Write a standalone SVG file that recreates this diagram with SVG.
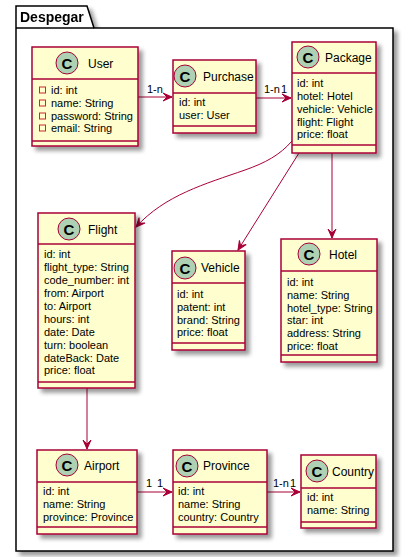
<svg xmlns="http://www.w3.org/2000/svg" width="409" height="557" viewBox="0 0 409 557">
<defs>
<filter id="sh" x="-20%" y="-20%" width="150%" height="150%">
<feGaussianBlur in="SourceAlpha" stdDeviation="2"/>
<feOffset dx="4" dy="4" result="b"/>
<feComponentTransfer><feFuncA type="linear" slope="0.4"/></feComponentTransfer>
<feMerge><feMergeNode/><feMergeNode in="SourceGraphic"/></feMerge>
</filter>
<marker id="ah" viewBox="0 -5 11 10" refX="10" refY="0" markerWidth="11" markerHeight="10" markerUnits="userSpaceOnUse" orient="auto">
<path d="M10,0 L1,-4 L5,0 L1,4 Z" fill="#A80036" stroke="#A80036" stroke-width="1"/>
</marker>
</defs>
<style>
.box{fill:#FEFECE;stroke:#A80036;stroke-width:1.5}
.sep{stroke:#A80036;stroke-width:1.5}
.ci{fill:#ADD1B2;stroke:#A80036;stroke-width:1}
.cl{font-family:"Liberation Sans",Arial,sans-serif;font-size:15px;font-weight:bold;fill:#000;text-anchor:middle}
.nm{font-family:"Liberation Sans",Arial,sans-serif;font-size:12px;fill:#000}
.at{font-family:"Liberation Sans",Arial,sans-serif;font-size:11px;fill:#000}
.lb{font-family:"Liberation Sans",Arial,sans-serif;font-size:11px;fill:#000}
.vi{fill:none;stroke:#C82930;stroke-width:1}
.cn{fill:none;stroke:#A80036;stroke-width:1}
</style>
<rect width="409" height="557" fill="#FFFFFF"/>
<g id="pkg-Despegar" filter="url(#sh)">
<path d="M16,28 L16,6 L87,6 L94,28 L393,28 L393,551 L16,551 Z" fill="#FFFFFF" stroke="#000" stroke-width="1.5"/>
<line x1="16" y1="28" x2="94" y2="28" stroke="#000" stroke-width="1.5"/>
<text x="20" y="22" font-family="Liberation Sans,Arial,sans-serif" font-size="14" font-weight="bold">Despegar</text>
</g>
<g id="connectors">
<line class="cn" x1="138" y1="97" x2="172" y2="97" marker-end="url(#ah)"/>
<text class="lb" x="147" y="93">1-n</text>
<line class="cn" x1="256" y1="98" x2="291" y2="98" marker-end="url(#ah)"/>
<text class="lb" x="264" y="93">1-n</text>
<text class="lb" x="281" y="93">1</text>
<path class="cn" d="M292,141 C280,155 265,163 245,170 C205,184 165,195 136,227" marker-end="url(#ah)"/>
<line class="cn" x1="299" y1="153" x2="238" y2="250" marker-end="url(#ah)"/>
<line class="cn" x1="332" y1="153" x2="332" y2="238" marker-end="url(#ah)"/>
<line class="cn" x1="87" y1="388" x2="87" y2="449" marker-end="url(#ah)"/>
<line class="cn" x1="137" y1="492" x2="172" y2="492" marker-end="url(#ah)"/>
<text class="lb" x="146" y="487">1</text>
<text class="lb" x="157" y="487">1</text>
<line class="cn" x1="267" y1="492" x2="300" y2="492" marker-end="url(#ah)"/>
<text class="lb" x="273" y="487">1-n</text>
<text class="lb" x="290" y="487">1</text>
</g>
<g id="User">
<rect class="box" x="32" y="47" width="106" height="99" filter="url(#sh)"/>
<line class="sep" x1="32" y1="79" x2="138" y2="79"/>
<line class="sep" x1="32" y1="141" x2="138" y2="141"/>
<circle class="ci" cx="67" cy="63" r="11"/>
<text class="cl" x="67" y="68.5">C</text>
<text class="nm" x="88" y="68">User</text>
<rect class="vi" x="39.5" y="87" width="6" height="6"/>
<rect class="vi" x="39.5" y="100" width="6" height="6"/>
<rect class="vi" x="39.5" y="113" width="6" height="6"/>
<rect class="vi" x="39.5" y="125" width="6" height="6"/>
<text class="at" x="51" y="94">id: int</text>
<text class="at" x="51" y="107">name: String</text>
<text class="at" x="51" y="120">password: String</text>
<text class="at" x="51" y="132">email: String</text>
</g>
<g id="Purchase">
<rect class="box" x="173" y="60" width="83" height="73" filter="url(#sh)"/>
<line class="sep" x1="173" y1="93" x2="256" y2="93"/>
<line class="sep" x1="173" y1="126" x2="256" y2="126"/>
<circle class="ci" cx="185" cy="76" r="11"/>
<text class="cl" x="185" y="81.5">C</text>
<text class="nm" x="203" y="81">Purchase</text>
<text class="at" x="179" y="106">id: int</text>
<text class="at" x="179" y="119">user: User</text>
</g>
<g id="Package">
<rect class="box" x="292" y="42" width="84" height="111" filter="url(#sh)"/>
<line class="sep" x1="292" y1="73" x2="376" y2="73"/>
<line class="sep" x1="292" y1="145" x2="376" y2="145"/>
<circle class="ci" cx="308" cy="57" r="11"/>
<text class="cl" x="308" y="62.5">C</text>
<text class="nm" x="325" y="62">Package</text>
<text class="at" x="297" y="87">id: int</text>
<text class="at" x="297" y="100">hotel: Hotel</text>
<text class="at" x="297" y="113">vehicle: Vehicle</text>
<text class="at" x="297" y="126">flight: Flight</text>
<text class="at" x="297" y="138">price: float</text>
</g>
<g id="Flight">
<rect class="box" x="38" y="213" width="97" height="175" filter="url(#sh)"/>
<line class="sep" x1="38" y1="244" x2="135" y2="244"/>
<line class="sep" x1="38" y1="382" x2="135" y2="382"/>
<circle class="ci" cx="69" cy="229" r="11"/>
<text class="cl" x="69" y="234.5">C</text>
<text class="nm" x="88" y="234">Flight</text>
<text class="at" x="44" y="258">id: int</text>
<text class="at" x="44" y="271">flight_type: String</text>
<text class="at" x="44" y="284">code_number: int</text>
<text class="at" x="44" y="297">from: Airport</text>
<text class="at" x="44" y="310">to: Airport</text>
<text class="at" x="44" y="323">hours: int</text>
<text class="at" x="44" y="336">date: Date</text>
<text class="at" x="44" y="349">turn: boolean</text>
<text class="at" x="44" y="362">dateBack: Date</text>
<text class="at" x="44" y="374">price: float</text>
</g>
<g id="Vehicle">
<rect class="box" x="172" y="251" width="73" height="99" filter="url(#sh)"/>
<line class="sep" x1="172" y1="283" x2="245" y2="283"/>
<line class="sep" x1="172" y1="343" x2="245" y2="343"/>
<circle class="ci" cx="185" cy="268" r="11"/>
<text class="cl" x="185" y="273.5">C</text>
<text class="nm" x="201" y="272">Vehicle</text>
<text class="at" x="177" y="298">id: int</text>
<text class="at" x="177" y="311">patent: int</text>
<text class="at" x="177" y="324">brand: String</text>
<text class="at" x="177" y="336">price: float</text>
</g>
<g id="Hotel">
<rect class="box" x="281" y="239" width="96" height="123" filter="url(#sh)"/>
<line class="sep" x1="281" y1="271" x2="377" y2="271"/>
<line class="sep" x1="281" y1="355" x2="377" y2="355"/>
<circle class="ci" cx="309" cy="254" r="11"/>
<text class="cl" x="309" y="259.5">C</text>
<text class="nm" x="329" y="259">Hotel</text>
<text class="at" x="287" y="286">id: int</text>
<text class="at" x="287" y="299">name: String</text>
<text class="at" x="287" y="312">hotel_type: String</text>
<text class="at" x="287" y="324">star: int</text>
<text class="at" x="287" y="337">address: String</text>
<text class="at" x="287" y="350">price: float</text>
</g>
<g id="Airport">
<rect class="box" x="37" y="450" width="100" height="84" filter="url(#sh)"/>
<line class="sep" x1="37" y1="482" x2="137" y2="482"/>
<line class="sep" x1="37" y1="527" x2="137" y2="527"/>
<circle class="ci" cx="67" cy="465" r="11"/>
<text class="cl" x="67" y="470.5">C</text>
<text class="nm" x="84" y="470">Airport</text>
<text class="at" x="43" y="495">id: int</text>
<text class="at" x="43" y="508">name: String</text>
<text class="at" x="43" y="521">province: Province</text>
</g>
<g id="Province">
<rect class="box" x="173" y="450" width="94" height="84" filter="url(#sh)"/>
<line class="sep" x1="173" y1="482" x2="267" y2="482"/>
<line class="sep" x1="173" y1="527" x2="267" y2="527"/>
<circle class="ci" cx="187" cy="466" r="11"/>
<text class="cl" x="187" y="471.5">C</text>
<text class="nm" x="203" y="470">Province</text>
<text class="at" x="178" y="495">id: int</text>
<text class="at" x="178" y="508">name: String</text>
<text class="at" x="178" y="521">country: Country</text>
</g>
<g id="Country">
<rect class="box" x="301" y="455" width="75" height="73" filter="url(#sh)"/>
<line class="sep" x1="301" y1="488" x2="376" y2="488"/>
<line class="sep" x1="301" y1="522" x2="376" y2="522"/>
<circle class="ci" cx="317" cy="471" r="11"/>
<text class="cl" x="317" y="476.5">C</text>
<text class="nm" x="332" y="476">Country</text>
<text class="at" x="307" y="501">id: int</text>
<text class="at" x="307" y="514">name: String</text>
</g>
</svg>
